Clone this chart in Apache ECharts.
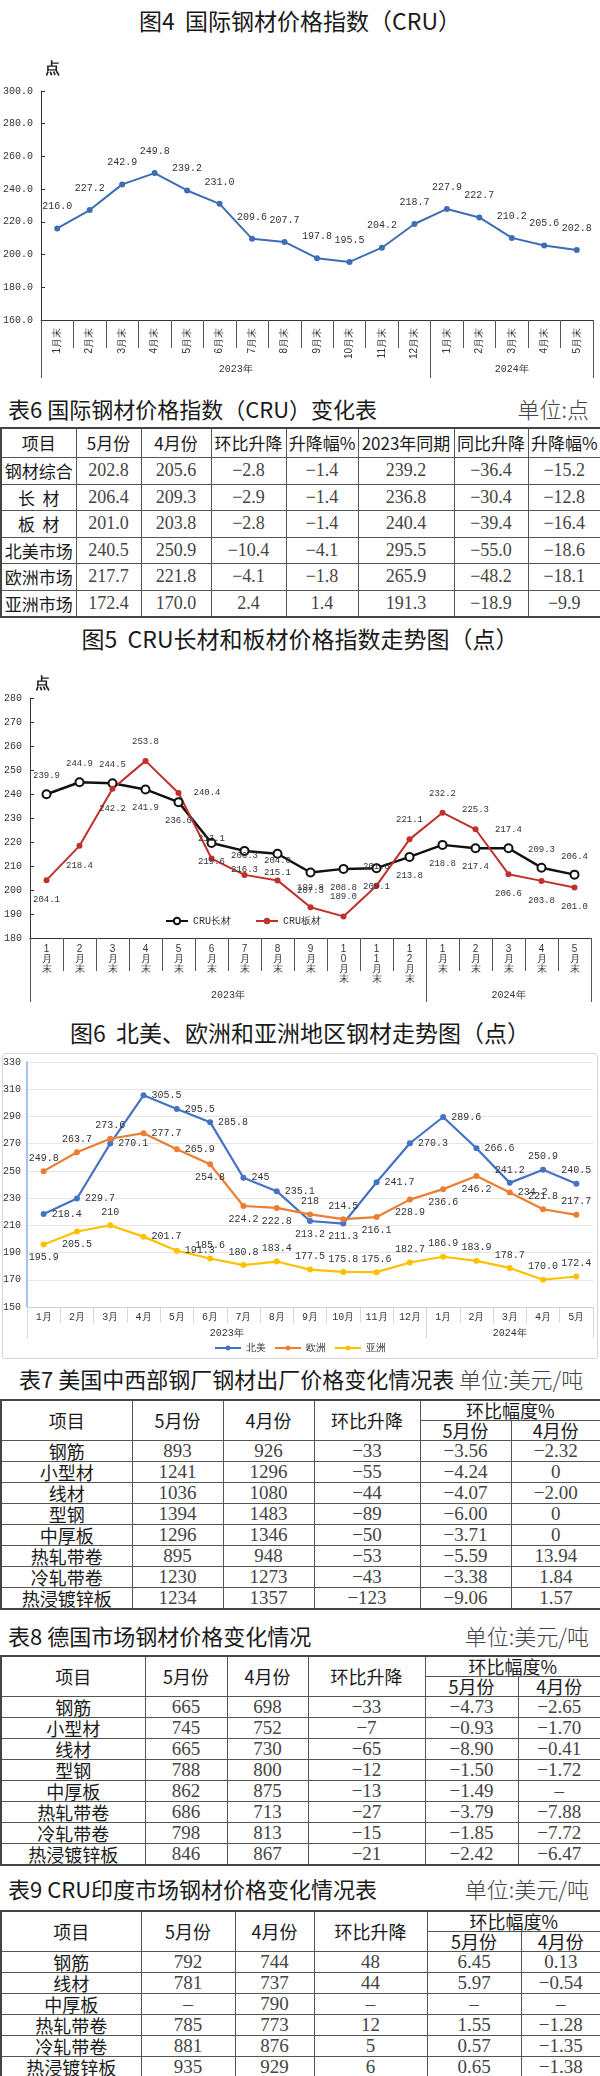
<!DOCTYPE html>
<html>
<head>
<meta charset="utf-8">
<script src="https://cdn.jsdelivr.net/npm/echarts@6/dist/echarts.min.js"></script>
<style>
body{margin:0;background:#fff;width:600px;height:2076px;position:relative;overflow:hidden;font-family:"Noto Sans CJK SC",sans-serif;}
.abs{position:absolute;left:0;width:600px;}
.fig{text-align:center;font-size:23px;line-height:28px;color:#1a1a1a;}
.ttl{font-size:22px;line-height:26px;color:#1a1a1a;white-space:nowrap;}
.unit{font-weight:300;color:#444;}
table{position:absolute;left:0;width:600px;border-collapse:collapse;table-layout:fixed;border:2px solid #444;}
td{border:1px solid #555;text-align:center;padding:0;white-space:nowrap;overflow:hidden;color:#1a1a1a;}
td.n{font-family:"Liberation Serif",serif;color:#444;}
</style>
</head>
<body>
<div class="abs fig" style="top:6px">图4&nbsp;&nbsp;国际钢材价格指数（CRU）</div>
<div id="chart-4" class="abs" style="top:40px;height:345px"></div>

<div class="abs ttl" style="top:395px;"><span style="margin-left:8px">表6&nbsp;国际钢材价格指数（CRU）变化表</span><span class="unit" style="position:absolute;right:11px">单位:点</span></div>
<table id="table-6" style="top:427px"></table>

<div class="abs fig" style="top:624px">图5&nbsp;&nbsp;CRU长材和板材价格指数走势图（点）</div>
<div id="chart-5" class="abs" style="top:655px;height:355px"></div>

<div class="abs fig" style="top:1018px">图6&nbsp;&nbsp;北美、欧洲和亚洲地区钢材走势图（点）</div>
<div style="position:absolute;left:2px;top:1053px;width:594px;height:304px;border:1px solid #d6d6d6;border-radius:3px"></div>
<div id="chart-6" class="abs" style="top:1053px;height:305px"></div>

<div class="abs ttl" style="top:1365px;"><span style="margin-left:19px">表7&nbsp;美国中西部钢厂钢材出厂价格变化情况表</span><span class="unit">&nbsp;单位:美元/吨</span></div>
<table id="table-7" style="top:1399px"></table>

<div class="abs ttl" style="top:1622px;"><span style="margin-left:8px">表8&nbsp;德国市场钢材价格变化情况</span><span class="unit" style="position:absolute;right:11px">单位:美元/吨</span></div>
<table id="table-8" style="top:1655px"></table>

<div class="abs ttl" style="top:1875px;"><span style="margin-left:8px">表9&nbsp;CRU印度市场钢材价格变化情况表</span><span class="unit" style="position:absolute;right:11px">单位:美元/吨</span></div>
<table id="table-9" style="top:1910px"></table>

<script>
// ---------- 数据 ----------
var months = ['1月末','2月末','3月末','4月末','5月末','6月末','7月末','8月末','9月末','10月末','11月末','12月末','1月末','2月末','3月末','4月末','5月末'];
var months6 = ['1月','2月','3月','4月','5月','6月','7月','8月','9月','10月','11月','12月','1月','2月','3月','4月','5月'];
var years = ['2023年','2024年'];

// 图4 国际钢材价格指数
var cruIndex = [216.0,227.2,242.9,249.8,239.2,231.0,209.6,207.7,197.8,195.5,204.2,218.7,227.9,222.7,210.2,205.6,202.8];

// 图5 长材 / 板材
var cruLong = [239.9,244.9,244.5,241.9,236.6,219.6,216.3,215.1,207.3,208.8,209.1,213.8,218.8,217.4,217.4,209.3,206.4];
var cruFlat = [204.1,218.4,242.2,253.8,240.4,213.1,206.3,204.0,192.8,189.0,201.8,221.1,232.2,225.3,206.6,203.8,201.0];

// 图6 北美 / 欧洲 / 亚洲
var northAmerica = [218.4,229.7,270.1,305.5,295.5,285.8,245,235.1,213.2,211.3,241.7,270.3,289.6,266.6,241.2,250.9,240.5];
var europe = [249.8,263.7,273.6,277.7,265.9,254.8,224.2,222.8,218,214.5,216.1,228.9,236.6,246.2,234.2,221.8,217.7];
var asia = [195.9,205.5,210,201.7,191.3,185.6,180.8,183.4,177.5,175.8,175.6,182.7,186.9,183.9,178.7,'170.0',172.4];

// 表6
var head6 = ['项目','5月份','4月份','环比升降','升降幅%','2023年同期','同比升降','升降幅%'];
var rows6 = [
    ['钢材综合','202.8','205.6','−2.8','−1.4','239.2','−36.4','−15.2'],
    ['长&nbsp;&nbsp;材','206.4','209.3','−2.9','−1.4','236.8','−30.4','−12.8'],
    ['板&nbsp;&nbsp;材','201.0','203.8','−2.8','−1.4','240.4','−39.4','−16.4'],
    ['北美市场','240.5','250.9','−10.4','−4.1','295.5','−55.0','−18.6'],
    ['欧洲市场','217.7','221.8','−4.1','−1.8','265.9','−48.2','−18.1'],
    ['亚洲市场','172.4','170.0','2.4','1.4','191.3','−18.9','−9.9']
];
// 表7
var rows7 = [
    ['钢筋','893','926','−33','−3.56','−2.32'],
    ['小型材','1241','1296','−55','−4.24','0'],
    ['线材','1036','1080','−44','−4.07','−2.00'],
    ['型钢','1394','1483','−89','−6.00','0'],
    ['中厚板','1296','1346','−50','−3.71','0'],
    ['热轧带卷','895','948','−53','−5.59','13.94'],
    ['冷轧带卷','1230','1273','−43','−3.38','1.84'],
    ['热浸镀锌板','1234','1357','−123','−9.06','1.57']
];
// 表8
var rows8 = [
    ['钢筋','665','698','−33','−4.73','−2.65'],
    ['小型材','745','752','−7','−0.93','−1.70'],
    ['线材','665','730','−65','−8.90','−0.41'],
    ['型钢','788','800','−12','−1.50','−1.72'],
    ['中厚板','862','875','−13','−1.49','–'],
    ['热轧带卷','686','713','−27','−3.79','−7.88'],
    ['冷轧带卷','798','813','−15','−1.85','−7.72'],
    ['热浸镀锌板','846','867','−21','−2.42','−6.47']
];
// 表9
var rows9 = [
    ['钢筋','792','744','48','6.45','0.13'],
    ['线材','781','737','44','5.97','−0.54'],
    ['中厚板','–','790','–','–','–'],
    ['热轧带卷','785','773','12','1.55','−1.28'],
    ['冷轧带卷','881','876','5','0.57','−1.35'],
    ['热浸镀锌板','935','929','6','0.65','−1.38']
];

// ---------- 表格 ----------
function cols(widths){
    var s='<colgroup>';
    widths.forEach(function(w){ s+='<col style="width:'+w+'px">'; });
    return s+'</colgroup>';
}
function bodyRows(rows,h,fs){
    var s='';
    rows.forEach(function(r){
        s+='<tr style="height:'+h+'px;line-height:'+h+'px">';
        r.forEach(function(c,i){
            s+= i==0 ? '<td style="font-size:'+fs+'px">'+c+'</td>' : '<td class="n" style="font-size:'+(fs+1)+'px">'+c+'</td>';
        });
        s+='</tr>';
    });
    return s;
}
function table6(){
    var s=cols([75,65,70,75,72,96,74,73]);
    s+='<tr style="height:28px;line-height:28px">';
    head6.forEach(function(h){ s+='<td style="font-size:17px">'+h+'</td>'; });
    s+='</tr>';
    s+=bodyRows(rows6,25.5,17);
    document.getElementById('table-6').innerHTML=s;
}
function tableM(id,widths,rows){
    var s=cols(widths);
    s+='<tr style="height:20px;line-height:19px">'+
        '<td rowspan="2" style="font-size:18px">项目</td>'+
        '<td rowspan="2" style="font-size:18px">5月份</td>'+
        '<td rowspan="2" style="font-size:18px">4月份</td>'+
        '<td rowspan="2" style="font-size:18px">环比升降</td>'+
        '<td colspan="2" style="font-size:18px">环比幅度%</td></tr>';
    s+='<tr style="height:20px;line-height:19px"><td style="font-size:18px">5月份</td><td style="font-size:18px">4月份</td></tr>';
    s+=bodyRows(rows,20,18);
    document.getElementById(id).innerHTML=s;
}
table6();
tableM('table-7',[131,91,91,106,91,90],rows7);
tableM('table-8',[144,82,81,117,93,83],rows8);
tableM('table-9',[140,94,79,113,94,80],rows9);

// ---------- 图表 ----------
var mono = 'Liberation Mono';
function yearAxis(tickLen, margin, color, fs){
    return {
        type:'value', min:0, max:17, position:'bottom',
        axisLine:{show:false}, splitLine:{show:false},
        axisTick:{show:true, customValues:[0,12,17], length:tickLen, lineStyle:{color:color}},
        axisLabel:{show:true, customValues:[6,14.5], margin:margin, fontSize:fs, color:'#333', fontFamily:mono,
            formatter:function(v){ return v<12 ? years[0] : years[1]; }}
    };
}
// 每个点单独的标签位置
function withPos(values, pos){
    return values.map(function(v,i){ return {value:v, label:{position:pos[i]}}; });
}
var unitTitle = function(left){
    return {text:'点', left:left, top:16, textStyle:{fontSize:15, fontWeight:'bold', color:'#222'}};
};

// 图4
var chart_4 = echarts.init(document.getElementById('chart-4'));
chart_4.setOption({
    animation:false,
    title:unitTitle(40),
    grid:{left:41,right:7,top:51,bottom:65},
    xAxis:[{
        type:'category', data:months, boundaryGap:true,
        axisLine:{lineStyle:{color:'#333'}},
        axisTick:{show:true, length:28, lineStyle:{color:'#555'}},
        axisLabel:{rotate:90, margin:8, fontSize:10, color:'#333'}
    }, yearAxis(58,44,'#555',10)],
    yAxis:{
        type:'value', min:160, max:300, interval:20,
        axisLine:{show:true, lineStyle:{color:'#333'}},
        axisTick:{show:true, inside:true, length:4},
        splitLine:{show:false},
        axisLabel:{fontSize:10, color:'#333', fontFamily:mono, margin:8, formatter:function(v){return v.toFixed(1);}}
    },
    series:[{
        type:'line', data:cruIndex,
        symbol:'circle', symbolSize:6,
        lineStyle:{color:'#3d6db5', width:2},
        itemStyle:{color:'#3d6db5'},
        label:{show:true, position:'top', distance:14, fontSize:10, color:'#333', fontFamily:mono,
            formatter:function(p){return p.value.toFixed(1);}}
    }]
});

// 图5
var longPos = ['top','top','top','bottom','bottom','bottom','bottom','bottom','bottom','bottom','bottom','bottom','bottom','bottom','top','top','top'];
var flatPos = ['bottom','bottom','bottom','top','right','top','top','top','top','top','top','top','top','top','bottom','bottom','bottom'];
var chart_5 = echarts.init(document.getElementById('chart-5'));
chart_5.setOption({
    animation:false,
    title:unitTitle(30),
    grid:{left:30,right:9,top:43,bottom:72},
    legend:{
        data:['CRU长材','CRU板材'], left:160, top:256, itemWidth:22, itemHeight:8, itemGap:24,
        textStyle:{fontSize:10, color:'#333', fontFamily:mono}
    },
    xAxis:[{
        type:'category', data:months, boundaryGap:true,
        axisLine:{lineStyle:{color:'#333'}},
        axisTick:{show:true, length:33, lineStyle:{color:'#555'}},
        axisLabel:{margin:6, fontSize:10, lineHeight:10, color:'#333',
            formatter:function(v){return v.split('').join('\n');}}
    }, yearAxis(64,52,'#555',10)],
    yAxis:{
        type:'value', min:180, max:280, interval:10,
        axisLine:{show:true, lineStyle:{color:'#333'}},
        axisTick:{show:true, inside:true, length:4},
        splitLine:{show:false},
        axisLabel:{fontSize:10, color:'#333', fontFamily:mono, margin:8}
    },
    series:[{
        name:'CRU长材', type:'line', data:withPos(cruLong,longPos),
        symbol:'emptyCircle', symbolSize:8,
        lineStyle:{color:'#111', width:2.5},
        itemStyle:{color:'#111', borderWidth:1.5},
        label:{show:true, distance:9, fontSize:9, color:'#333', fontFamily:mono,
            formatter:function(p){return p.value.toFixed(1);}}
    },{
        name:'CRU板材', type:'line', data:withPos(cruFlat,flatPos),
        symbol:'circle', symbolSize:6,
        lineStyle:{color:'#c0302c', width:2},
        itemStyle:{color:'#c0302c'},
        label:{show:true, distance:12, fontSize:9, color:'#333', fontFamily:mono,
            formatter:function(p){return p.value.toFixed(1);}}
    }]
});

// 图6
var naPos = ['right','right','right','right','right','right','right','right','bottom','bottom','right','right','right','right','top','top','top'];
var euPos = ['top','top','top','right','right','bottom','bottom','bottom','top','top','bottom','bottom','bottom','bottom','right','top','top'];
var asPos = ['bottom','bottom','top','right','right','top','top','top','top','top','top','top','top','top','top','top','top'];
var chart_6 = echarts.init(document.getElementById('chart-6'));
function regionLine(name, data, color, pos){
    return {
        name:name, type:'line', data:withPos(data,pos),
        symbol:'circle', symbolSize:6,
        lineStyle:{color:color, width:2.2},
        itemStyle:{color:color},
        label:{show:true, distance:5, fontSize:10, color:'#333', fontFamily:mono}
    };
}
chart_6.setOption({
    animation:false,
    grid:{left:26,right:7,top:9,bottom:51},
    legend:{
        data:['北美','欧洲','亚洲'], bottom:0, left:'center', itemWidth:26, itemHeight:6, itemGap:8,
        textStyle:{fontSize:10, color:'#333'}
    },
    xAxis:[{
        type:'category', data:months6, boundaryGap:true,
        axisLine:{lineStyle:{color:'#d0d0d0'}},
        axisTick:{show:true, length:16, lineStyle:{color:'#d8d8d8'}},
        axisLabel:{margin:5, fontSize:10, color:'#333', fontFamily:mono}
    }, yearAxis(31,21,'#d8d8d8',10)],
    yAxis:{
        type:'value', min:150, max:330, interval:20,
        axisLine:{show:true, lineStyle:{color:'#8db0e0', width:1.5}},
        axisTick:{show:false},
        splitLine:{show:true, lineStyle:{color:'#e6e6e6'}},
        axisLabel:{fontSize:10, color:'#333', fontFamily:mono, margin:6}
    },
    series:[
        regionLine('北美', northAmerica, '#4472c4', naPos),
        regionLine('欧洲', europe, '#ed7d31', euPos),
        regionLine('亚洲', asia, '#ffc000', asPos)
    ]
});
</script>
</body>
</html>
